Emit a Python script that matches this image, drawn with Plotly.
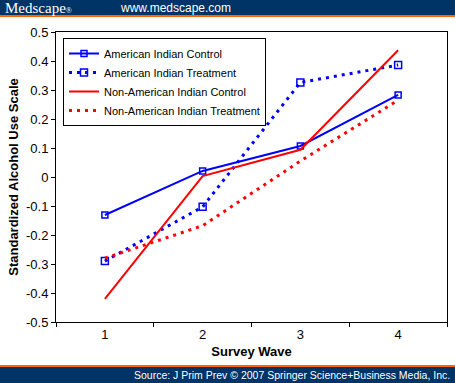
import plotly.graph_objects as go

waves = [1, 2, 3, 4]
ai_control = [-0.131, 0.021, 0.107, 0.283]
ai_treatment = [-0.290, -0.103, 0.326, 0.386]
nai_control = [-0.420, 0.003, 0.094, 0.437]
nai_treatment = [-0.280, -0.168, 0.055, 0.265]
y_ticks = [0.5, 0.4, 0.3, 0.2, 0.1, 0, -0.1, -0.2, -0.3, -0.4, -0.5]
y_tick_text = ["0.5", "0.4", "0.3", "0.2", "0.1", "0", "-0.1", "-0.2", "-0.3", "-0.4", "-0.5"]

BLUE = "#0000ff"
RED = "#ff0000"
NAVY = "#003366"
ORANGE = "#ff6600"

fig = go.Figure()
fig.add_trace(go.Scatter(x=waves, y=ai_control, name="American Indian Control",
                         mode="lines+markers",
                         line=dict(color=BLUE, width=2),
                         marker=dict(symbol="square-open", size=6, color=BLUE, line=dict(width=1.5))))
fig.add_trace(go.Scatter(x=waves, y=ai_treatment, name="American Indian Treatment",
                         mode="lines+markers",
                         line=dict(color=BLUE, width=3, dash="3px,5px"),
                         marker=dict(symbol="square-open", size=7, color=BLUE, line=dict(width=1.5))))
fig.add_trace(go.Scatter(x=waves, y=nai_control, name="Non-American Indian Control",
                         mode="lines", line=dict(color=RED, width=2)))
fig.add_trace(go.Scatter(x=waves, y=nai_treatment, name="Non-American Indian Treatment",
                         mode="lines", line=dict(color=RED, width=3, dash="3px,5px")))

shapes = [
    dict(type="rect", xref="paper", yref="paper", x0=-0.2, x1=1.1, y0=(322 - 15) / 290, y1=1.2,
         fillcolor=NAVY, line=dict(width=0), layer="below"),
    dict(type="rect", xref="paper", yref="paper", x0=-0.2, x1=1.1, y0=(322 - 17) / 290, y1=(322 - 15) / 290,
         fillcolor=ORANGE, line=dict(width=0), layer="below"),
    dict(type="rect", xref="paper", yref="paper", x0=-0.2, x1=1.1, y0=-0.3, y1=(322 - 367) / 290,
         fillcolor=NAVY, line=dict(width=0), layer="below"),
    dict(type="rect", xref="paper", yref="paper", x0=-0.2, x1=1.1, y0=(322 - 367) / 290, y1=(322 - 365) / 290,
         fillcolor=ORANGE, line=dict(width=0), layer="below"),
]

annotations = [
    dict(text="Medscape<span style='font-size:8px'>®</span>", xref="paper", yref="paper",
         x=(3 - 56) / 391, y=(322 - 7.5) / 290, xanchor="left", yanchor="middle", showarrow=False,
         font=dict(family="Liberation Serif", size=15, color="white")),
    dict(text="www.medscape.com", xref="paper", yref="paper",
         x=(118 - 56) / 391, y=(322 - 7.5) / 290, xanchor="left", yanchor="middle", showarrow=False,
         font=dict(family="Liberation Sans", size=12, color="white")),
    dict(text="Source: J Prim Prev © 2007 Springer Science+Business Media, Inc.", xref="paper", yref="paper",
         x=(452 - 56) / 391, y=(322 - 375) / 290, xanchor="right", yanchor="middle", showarrow=False,
         font=dict(family="Liberation Sans", size=10.5, color="white")),
]

fig.update_layout(
    width=455, height=383,
    margin=dict(l=56, r=8, t=32, b=61),
    paper_bgcolor="white", plot_bgcolor="white",
    font=dict(family="Liberation Sans", size=12, color="black"),
    showlegend=True,
    legend=dict(x=(63 - 56) / 391, y=(322 - 38) / 290, xanchor="left", yanchor="top",
                bgcolor="white", bordercolor="black", borderwidth=1,
                font=dict(size=11), tracegroupgap=0, itemwidth=30),
    shapes=shapes,
    annotations=annotations,
    xaxis=dict(range=[0.5, 4.5], tickvals=waves, ticktext=[str(w) for w in waves],
               ticks="", showgrid=False, zeroline=False,
               showline=True, linecolor="black", linewidth=1, mirror=True,
               minor=dict(tick0=0.5, dtick=1, ticks="outside", ticklen=4, tickcolor="black", showgrid=False),
               title=dict(text="<b>Survey Wave</b>", font=dict(size=13), standoff=6),
               tickfont=dict(size=13)),
    yaxis=dict(range=[-0.5, 0.5], tickvals=y_ticks, ticktext=y_tick_text,
               ticks="outside", ticklen=4, tickcolor="black", showgrid=False, zeroline=False,
               showline=True, linecolor="black", linewidth=1, mirror=True,
               title=dict(text="<b>Standardized Alcohol Use Scale</b>", font=dict(size=13), standoff=4),
               tickfont=dict(size=13)),
)

fig.write_html("out.html", config={"displayModeBar": False},
               post_script="document.body.style.margin='0';document.body.style.overflow='hidden';")
